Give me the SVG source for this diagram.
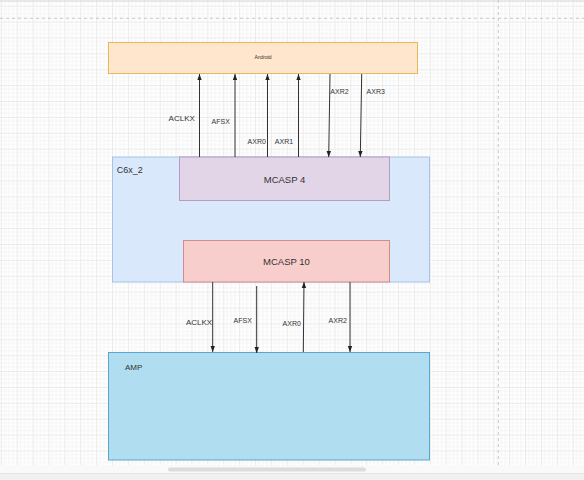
<svg xmlns="http://www.w3.org/2000/svg" width="584" height="480" viewBox="0 0 584 480">
<defs>
<pattern id="grid" patternUnits="userSpaceOnUse" x="0.8" y="5.7" width="15.886" height="15.886">
<rect width="15.886" height="15.886" fill="#ffffff"/>
<path d="M3.97 0V15.886M7.94 0V15.886M11.91 0V15.886M0 3.97H15.886M0 7.94H15.886M0 11.91H15.886" stroke="#f5f5f5" stroke-width="1" fill="none"/>
<path d="M0.5 0V15.886M0 0.5H15.886" stroke="#ebebeb" stroke-width="1" fill="none"/>
</pattern>
<marker id="ah" markerUnits="userSpaceOnUse" markerWidth="6" markerHeight="6" viewBox="0 0 6 6" refX="6" refY="3" orient="auto">
<path d="M0 0.8L6 3L0 5.2Z" fill="#222"/>
</marker>
<style>
.t{font-family:"Liberation Sans",Arial,sans-serif;fill:#333}
.c{text-anchor:middle}
.ln{stroke:#333;stroke-width:1;fill:none;marker-end:url(#ah)}
</style>
</defs>
<rect width="584" height="480" fill="url(#grid)"/>
<line x1="0" y1="1" x2="584" y2="1" stroke="#e2e2e2" stroke-width="1.5"/>
<line x1="0" y1="18.3" x2="584" y2="18.3" stroke="#c8c8c8" stroke-width="1" stroke-dasharray="3 3"/>
<line x1="498.3" y1="0" x2="498.3" y2="465" stroke="#c8c8c8" stroke-width="1" stroke-dasharray="3 3"/>

<g id="android">
<rect x="108.5" y="42.5" width="309" height="31" fill="#ffe6cc" stroke="#e8b858" stroke-width="1"/>
<text class="t c" x="263" y="59" font-size="5">Android</text>
</g>
<g id="c6x_2">
<rect x="112.5" y="157" width="317" height="125" fill="#dae8fc" stroke="#a6c2ea" stroke-width="1"/>
<text class="t" x="116.7" y="172.5" font-size="9">C6x_2</text>
</g>
<g id="mcasp4">
<rect x="179.5" y="157" width="210" height="43.5" fill="#e1d5e7" stroke="#b49cc2" stroke-width="1"/>
<text class="t c" x="284.5" y="182.5" font-size="9.5">MCASP 4</text>
</g>
<g id="mcasp10">
<rect x="183.5" y="240.5" width="206" height="41.5" fill="#f8cecc" stroke="#d48c8a" stroke-width="1"/>
<text class="t c" x="286.5" y="264.5" font-size="9.5">MCASP 10</text>
</g>
<g id="amp">
<rect x="108.5" y="352.5" width="321" height="107.5" fill="#b1ddf0" stroke="#5aa6cf" stroke-width="1"/>
<text class="t" x="125" y="370" font-size="8">AMP</text>
</g>

<g id="connectors">
<line class="ln" x1="199.5" y1="157" x2="199.5" y2="74"/>
<line class="ln" x1="235" y1="157" x2="235" y2="74"/>
<line class="ln" x1="267.5" y1="157" x2="267.5" y2="74"/>
<line class="ln" x1="298.5" y1="157" x2="298.5" y2="74"/>
<line class="ln" x1="330" y1="74" x2="328.7" y2="157"/>
<line class="ln" x1="361.7" y1="74" x2="360.3" y2="157"/>
<line class="ln" x1="212.7" y1="282" x2="212.7" y2="352"/>
<line class="ln" x1="256.7" y1="286" x2="256.7" y2="353"/>
<line class="ln" x1="303.3" y1="352" x2="304" y2="282"/>
<line class="ln" x1="350" y1="282" x2="350" y2="352"/>
<text class="t c" x="181.7" y="121" font-size="8">ACLKX</text>
<text class="t c" x="220.7" y="123.5" font-size="7">AFSX</text>
<text class="t c" x="256.7" y="143.5" font-size="7">AXR0</text>
<text class="t c" x="284" y="143.5" font-size="7">AXR1</text>
<text class="t c" x="339.5" y="93.5" font-size="7">AXR2</text>
<text class="t c" x="375.7" y="93.5" font-size="7">AXR3</text>
<text class="t c" x="199" y="324.5" font-size="8">ACLKX</text>
<text class="t c" x="242.7" y="323" font-size="7">AFSX</text>
<text class="t c" x="291.7" y="325.5" font-size="7">AXR0</text>
<text class="t c" x="337.7" y="323" font-size="7">AXR2</text>
</g>

<rect x="0" y="465" width="584" height="8.5" fill="#f9f9f9"/>
<rect x="0" y="473.5" width="584" height="6.5" fill="#f0f0f0"/>
<line x1="0" y1="473.5" x2="584" y2="473.5" stroke="#e4e4e4" stroke-width="1"/>
<rect x="168" y="467.5" width="198" height="4" rx="2" fill="#dcdcdc"/>
</svg>
